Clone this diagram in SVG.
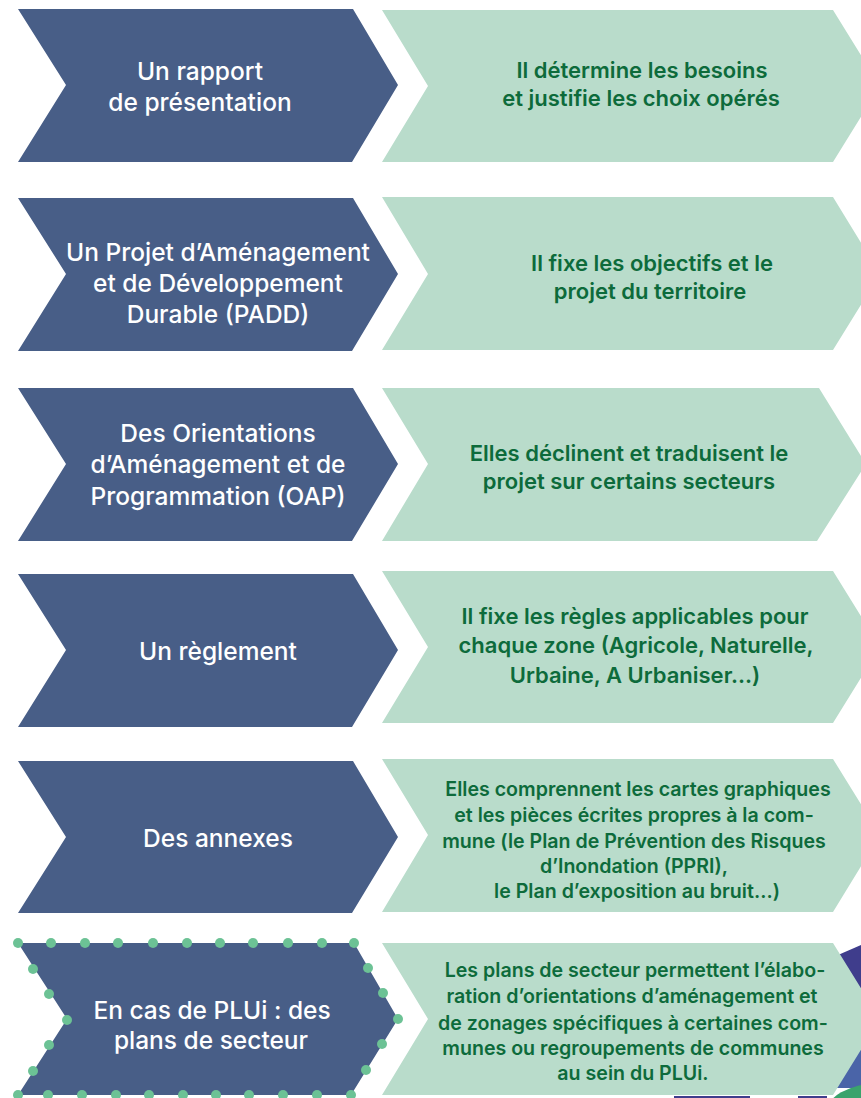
<svg xmlns="http://www.w3.org/2000/svg" width="861" height="1098" viewBox="0 0 861 1098">
<style>
.blue{fill:#485e87}
.green{fill:#b9dccb}
.bt{font-family:Inter,"Liberation Sans",sans-serif;font-weight:500;font-size:24.5px;fill:#ffffff;text-anchor:middle}
.gt{font-family:Inter,"Liberation Sans",sans-serif;font-weight:600;font-size:22px;fill:#0d6b3b;text-anchor:middle}
.gs{font-size:19.6px}
.dot{fill:#6cc295}
</style>
<rect width="861" height="1098" fill="#ffffff"/>
<g id="decor">
<polygon points="838,955 861,945 861,1010 838,1010" fill="#3f3d8c"/>
<polygon points="820,1005 861,1005 861,1088 820,1088" fill="#4a64a8"/>
<ellipse cx="880" cy="1115" rx="55" ry="32" fill="#3aa36c"/>
<rect x="674" y="1096" width="76" height="2" fill="#3f3d8c"/>
<rect x="798" y="1096" width="29" height="2" fill="#3f3d8c"/>
</g>
<g id="connectors"></g>
<g id="row1">
<polygon class="blue" points="18,9 353,9 398,85 352,162 18,162 66,85"/>
<text class="bt" x="200" y="80">Un rapport</text>
<text class="bt" x="200" y="111">de présentation</text>
<polygon class="green" points="382,10 833,10 880,86 833,162 382,162 428,86"/>
<text class="gt" x="642" y="78">Il détermine les besoins</text>
<text class="gt" x="641" y="106">et justifie les choix opérés</text>
</g>
<g id="row2">
<polygon class="blue" points="18,198 353,198 398,274 352,351 18,351 66,274"/>
<text class="bt" x="218" y="261">Un Projet d’Aménagement</text>
<text class="bt" x="218" y="292">et de Développement</text>
<text class="bt" x="218" y="323">Durable (PADD)</text>
<polygon class="green" points="382,197 833,197 880,274 833,350 382,350 428,274"/>
<text class="gt" x="652" y="271">Il fixe les objectifs et le</text>
<text class="gt" x="650" y="299">projet du territoire</text>
</g>
<g id="row3">
<polygon class="blue" points="18,388 353,388 398,464 352,541 18,541 66,464"/>
<text class="bt" x="218" y="442">Des Orientations</text>
<text class="bt" x="218" y="473">d’Aménagement et de</text>
<text class="bt" x="218" y="505">Programmation (OAP)</text>
<polygon class="green" points="382,388 819,388 866,464 817,541 382,541 428,464"/>
<text class="gt" x="629" y="461">Elles déclinent et traduisent le</text>
<text class="gt" x="629" y="489">projet sur certains secteurs</text>
</g>
<g id="row4">
<polygon class="blue" points="18,574 353,574 398,650 352,727 18,727 66,650"/>
<text class="bt" x="218" y="660">Un règlement</text>
<polygon class="green" points="382,571 833,571 880,647 833,723 382,723 428,647"/>
<text class="gt" x="635" y="624">Il fixe les règles applicables pour</text>
<text class="gt" x="636" y="653">chaque zone (Agricole, Naturelle,</text>
<text class="gt" x="635" y="683">Urbaine, A Urbaniser…)</text>
</g>
<g id="row5">
<polygon class="blue" points="18,761 353,761 398,837 352,913 18,913 66,837"/>
<text class="bt" x="218" y="847">Des annexes</text>
<polygon class="green" points="382,759 833,759 880,835 833,912 382,912 428,835"/>
<text class="gt gs" x="638" y="796">Elles comprennent les cartes graphiques</text>
<text class="gt gs" x="634" y="822">et les pièces écrites propres à la com-</text>
<text class="gt gs" x="634" y="848">mune (le Plan de Prévention des Risques</text>
<text class="gt gs" x="634" y="873">d’Inondation (PPRI),</text>
<text class="gt gs" x="637" y="898">le Plan d’exposition au bruit…)</text>
</g>
<g id="row6">
<polygon class="blue" points="18,943 354,943 398,1019 351,1095 18,1095 67,1019"/>
<g id="dots">
<circle class="dot" cx="18" cy="943" r="5"/><circle class="dot" cx="51" cy="943" r="5"/><circle class="dot" cx="85" cy="943" r="5"/><circle class="dot" cx="118" cy="943" r="5"/><circle class="dot" cx="153" cy="943" r="5"/><circle class="dot" cx="187" cy="943" r="5"/><circle class="dot" cx="220" cy="943" r="5"/><circle class="dot" cx="253" cy="943" r="5"/><circle class="dot" cx="288" cy="943" r="5"/><circle class="dot" cx="322" cy="943" r="5"/><circle class="dot" cx="354" cy="943" r="5"/>
<circle class="dot" cx="18" cy="1095" r="5"/><circle class="dot" cx="48" cy="1095" r="5"/><circle class="dot" cx="82" cy="1095" r="5"/><circle class="dot" cx="116" cy="1095" r="5"/><circle class="dot" cx="149" cy="1095" r="5"/><circle class="dot" cx="183" cy="1095" r="5"/><circle class="dot" cx="216" cy="1095" r="5"/><circle class="dot" cx="249" cy="1095" r="5"/><circle class="dot" cx="283" cy="1095" r="5"/><circle class="dot" cx="317" cy="1095" r="5"/><circle class="dot" cx="351" cy="1095" r="5"/>
<circle class="dot" cx="368" cy="968" r="5"/><circle class="dot" cx="383" cy="993" r="5"/><circle class="dot" cx="398" cy="1019" r="5"/><circle class="dot" cx="382" cy="1044" r="5"/><circle class="dot" cx="366" cy="1070" r="5"/>
<circle class="dot" cx="33" cy="969" r="5"/><circle class="dot" cx="49" cy="994" r="5"/><circle class="dot" cx="67" cy="1020" r="5"/><circle class="dot" cx="49" cy="1045" r="5"/><circle class="dot" cx="33" cy="1071" r="5"/>
</g>
<text class="bt" x="212" y="1019">En cas de PLUi : des</text>
<text class="bt" x="211" y="1049">plans de secteur</text>
<polygon class="green" points="382,943 833,943 880,1019 833,1095 382,1095 428,1019"/>
<text class="gt gs" x="635" y="977">Les plans de secteur permettent l’élabo-</text>
<text class="gt gs" x="632" y="1003">ration d’orientations d’aménagement et</text>
<text class="gt gs" x="633" y="1030">de zonages spécifiques à certaines com-</text>
<text class="gt gs" x="633" y="1055">munes ou regroupements de communes</text>
<text class="gt gs" x="633" y="1080">au sein du PLUi.</text>
</g>
</svg>
